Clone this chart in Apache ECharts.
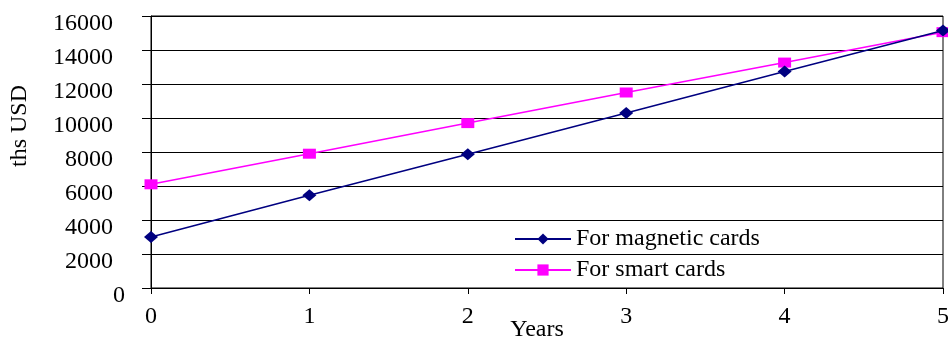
<!DOCTYPE html>
<html>
<head>
<meta charset="utf-8">
<script src="https://cdn.jsdelivr.net/npm/echarts@6/dist/echarts.min.js"></script>
<style>
  html, body { margin: 0; padding: 0; background: #fff; }
  #chart { width: 948px; height: 338px; }
</style>
</head>
<body>
<div id="chart"></div>
<script>
// Years since introduction
const years = ['0', '1', '2', '3', '4', '5'];
// Cumulative cost, thousands of USD
const magneticCards = [3000, 5450, 7870, 10300, 12730, 15150];
const smartCards = [6100, 7900, 9700, 11500, 13260, 15050];
const yTicks = { min: 0, max: 16000, step: 2000 };

const FONT = '"Liberation Serif", "Times New Roman", serif';
const FS = 24;
const DIGIT = FS / 2; // tabular digit advance in Liberation Serif

// Left-aligned tick labels, pushed right by a spacer so the digits line up on the right.
function yLabel(v) {
  const s = String(v);
  const pad = v === 0 ? 5 * DIGIT : (5 - s.length) * DIGIT;
  return pad > 0 ? '{g' + pad + '| }{n|' + s + '}' : '{n|' + s + '}';
}
const yRich = {
  n: { fontFamily: FONT, fontSize: FS, color: '#000', padding: [16, 0, 0, 0] }
};
[DIGIT, 5 * DIGIT].forEach(w => {
  yRich['g' + w] = { fontFamily: FONT, fontSize: FS, width: w, padding: [16, 0, 0, 0] };
});

const chart = echarts.init(document.getElementById('chart'), null, { renderer: 'canvas' });
chart.setOption({
  animation: false,
  backgroundColor: '#fff',
  grid: {
    left: 151, right: 5, top: 16, bottom: 50,
    containLabel: false,
    outerBoundsMode: 'none',
    show: true, borderColor: '#000', borderWidth: 1
  },
  legend: {
    orient: 'vertical',
    left: 509, top: 222,
    itemWidth: 56, itemHeight: 14, itemGap: 7,
    textStyle: { fontFamily: FONT, fontSize: FS, color: '#000' },
    data: ['For magnetic cards', 'For smart cards']
  },
  xAxis: {
    type: 'category',
    data: years,
    boundaryGap: false,
    name: 'Years',
    nameLocation: 'middle',
    nameGap: 30,
    nameMoveOverlap: false,
    nameTextStyle: { fontFamily: FONT, fontSize: FS, color: '#000', padding: [0, 20, 0, 0] },
    axisLine: { lineStyle: { color: '#000', width: 1 } },
    axisTick: { show: true, length: 6, inside: false, lineStyle: { color: '#000' } },
    axisLabel: { fontFamily: FONT, fontSize: FS, color: '#000', margin: 17 },
    splitLine: { show: false }
  },
  yAxis: {
    type: 'value',
    min: yTicks.min, max: yTicks.max, interval: yTicks.step,
    axisLine: { show: true, lineStyle: { color: '#000', width: 1 } },
    axisTick: { show: true, length: 9, lineStyle: { color: '#000' } },
    axisLabel: {
      fontFamily: FONT, fontSize: FS, color: '#000',
      align: 'left',
      verticalAlign: 'middle',
      margin: 98,
      formatter: yLabel,
      rich: yRich
    },
    splitLine: { show: true, lineStyle: { color: '#000', width: 1 } }
  },
  graphic: [{
    type: 'text',
    left: 8, top: 85,
    rotation: Math.PI / 2,
    style: { text: 'ths USD', font: FS + 'px ' + FONT, fill: '#000' }
  }],
  series: [
    {
      name: 'For magnetic cards',
      type: 'line',
      data: magneticCards,
      symbol: 'diamond',
      symbolSize: [14, 12],
      itemStyle: { color: '#000080' },
      lineStyle: { color: '#000080', width: 1.5 },
      z: 3
    },
    {
      name: 'For smart cards',
      type: 'line',
      data: smartCards,
      symbol: 'rect',
      symbolSize: [13, 10],
      itemStyle: { color: '#ff00ff' },
      lineStyle: { color: '#ff00ff', width: 1.5 },
      z: 2
    }
  ]
});
</script>
</body>
</html>
